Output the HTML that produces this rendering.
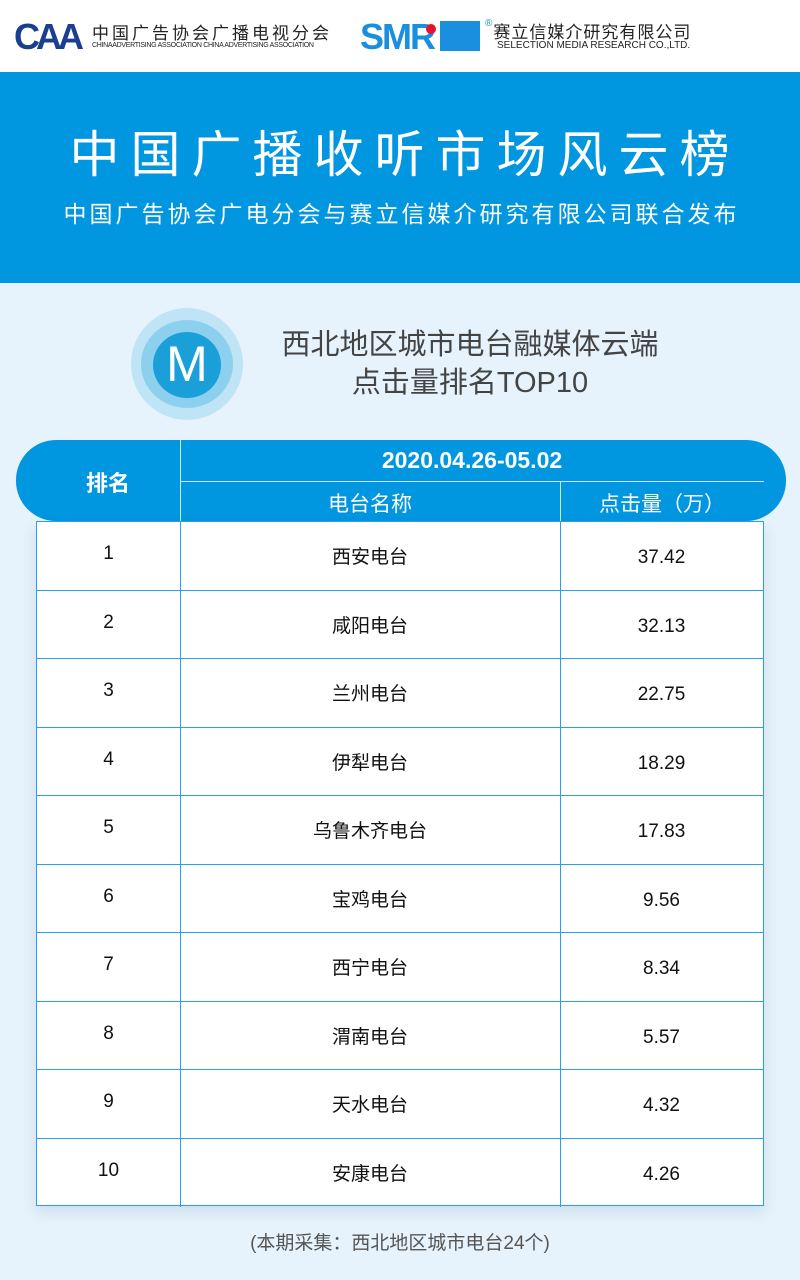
<!DOCTYPE html>
<html><head><meta charset="utf-8"><style>
*{margin:0;padding:0;box-sizing:border-box}
body{width:800px;height:1280px;background:#e6f3fc;font-family:"Liberation Sans","Noto Sans CJK SC",sans-serif;position:relative;overflow:hidden}
.top{position:absolute;left:0;top:0;width:800px;height:72px;background:#fff}
.band{position:absolute;left:0;top:72px;width:800px;height:211px;background:#0096e0}
.t1{position:absolute;top:124px;left:0;width:810px;text-align:center;color:#fff;font-size:50px;letter-spacing:11px;line-height:62px}
.t2{position:absolute;top:199px;left:0;width:803px;text-align:center;color:#fff;font-size:23px;letter-spacing:3px;line-height:30px}
.abs{position:absolute}
.pill{position:absolute;left:16px;top:440px;width:770px;height:81px;background:#0096e0;border-radius:40px}
.hd{position:absolute;color:#fff;text-align:center}
.tbl{position:absolute;left:36px;top:521px;width:728px;height:685px;background:#fff;border:1px solid #2aa0e8;box-shadow:0 6px 14px rgba(0,60,120,.12)}
.row{position:absolute;left:0;width:726px;height:68.5px;border-bottom:1px solid #2aa0e8}
.c{position:absolute;top:0;height:68px;line-height:68px;text-align:center;font-size:19px;color:#111}
.vl{position:absolute;top:0;width:1px;height:685px;background:#2aa0e8}
</style></head><body>
<div class="top">
<div class="abs" style="left:14px;top:16px;font:bold 36px 'Liberation Sans',sans-serif;color:#1a3f8f;letter-spacing:-4px">CAA</div>
<div class="abs" style="left:92px;top:19px;font-size:17px;color:#222;letter-spacing:3px">中国广告协会广播电视分会</div>
<div class="abs" style="left:92px;top:42px;font-size:7px;color:#222;letter-spacing:-.3px">CHINAADVERTISING ASSOCIATION CHINA ADVERTISING ASSOCIATION</div>
<div class="abs" style="left:360px;top:16px;font:bold 36px 'Liberation Sans',sans-serif;color:#1a8fe0;letter-spacing:-2px">SMR</div>
<div class="abs" style="left:426px;top:24px;width:10px;height:10px;border-radius:50%;background:#e8112d"></div>
<div class="abs" style="left:440px;top:21px;width:40px;height:30px;background:#1a8fe0"></div>
<div class="abs" style="left:485px;top:18px;font-size:17px;color:#222;letter-spacing:1px"><span style="font-size:10px;color:#1a8fe0;vertical-align:top">®</span>赛立信媒介研究有限公司</div>
<div class="abs" style="left:497px;top:40px;font-size:10px;color:#222">SELECTION MEDIA RESEARCH CO.,LTD.</div>
</div>
<div class="band"></div>
<div class="t1">中国广播收听市场风云榜</div>
<div class="t2">中国广告协会广电分会与赛立信媒介研究有限公司联合发布</div>
<div class="abs" style="left:131px;top:308px;width:112px;height:112px;border-radius:50%;background:#bfe4f5"></div>
<div class="abs" style="left:141px;top:320px;width:92px;height:88px;border-radius:50%;background:#8dd0ee"></div>
<div class="abs" style="left:153px;top:332px;width:68px;height:66px;border-radius:50%;background:#1a9fd8;color:#fff;font-size:50px;line-height:64px;text-align:center;font-weight:200">M</div>
<div class="abs" style="left:270px;top:326px;width:400px;text-align:center;font-size:29px;line-height:38px;color:#444">西北地区城市电台融媒体云端<br>点击量排名TOP10</div>
<div class="pill"></div>
<div class="abs" style="left:180px;top:440px;width:1px;height:81px;background:#cfe8f8"></div>
<div class="abs" style="left:180px;top:481px;width:584px;height:1px;background:#cfe8f8"></div>
<div class="abs" style="left:560px;top:481px;width:1px;height:40px;background:#cfe8f8"></div>
<div class="hd" style="left:36px;top:466px;width:144px;font-size:22px;font-weight:bold">排名</div>
<div class="hd" style="left:180px;top:447px;width:584px;font-size:23px;font-weight:bold">2020.04.26-05.02</div>
<div class="hd" style="left:180px;top:488px;width:380px;font-size:21px">电台名称</div>
<div class="hd" style="left:560px;top:488px;width:204px;font-size:21px">点击量（万）</div>
<div class="tbl">
<div class="vl" style="left:143px"></div><div class="vl" style="left:523px"></div>
<div class="row" style="top:0"><div class="c" style="left:0;width:143px;top:-2px">1</div><div class="c" style="left:143px;width:380px;top:2px">西安电台</div><div class="c" style="left:523px;width:203px;top:2px">37.42</div></div>
<div class="row" style="top:68.5px"><div class="c" style="left:0;width:143px;top:-2px">2</div><div class="c" style="left:143px;width:380px;top:2px">咸阳电台</div><div class="c" style="left:523px;width:203px;top:2px">32.13</div></div>
<div class="row" style="top:137px"><div class="c" style="left:0;width:143px;top:-2px">3</div><div class="c" style="left:143px;width:380px;top:2px">兰州电台</div><div class="c" style="left:523px;width:203px;top:2px">22.75</div></div>
<div class="row" style="top:205.5px"><div class="c" style="left:0;width:143px;top:-2px">4</div><div class="c" style="left:143px;width:380px;top:2px">伊犁电台</div><div class="c" style="left:523px;width:203px;top:2px">18.29</div></div>
<div class="row" style="top:274px"><div class="c" style="left:0;width:143px;top:-2px">5</div><div class="c" style="left:143px;width:380px;top:2px">乌鲁木齐电台</div><div class="c" style="left:523px;width:203px;top:2px">17.83</div></div>
<div class="row" style="top:342.5px"><div class="c" style="left:0;width:143px;top:-2px">6</div><div class="c" style="left:143px;width:380px;top:2px">宝鸡电台</div><div class="c" style="left:523px;width:203px;top:2px">9.56</div></div>
<div class="row" style="top:411px"><div class="c" style="left:0;width:143px;top:-2px">7</div><div class="c" style="left:143px;width:380px;top:2px">西宁电台</div><div class="c" style="left:523px;width:203px;top:2px">8.34</div></div>
<div class="row" style="top:479.5px"><div class="c" style="left:0;width:143px;top:-2px">8</div><div class="c" style="left:143px;width:380px;top:2px">渭南电台</div><div class="c" style="left:523px;width:203px;top:2px">5.57</div></div>
<div class="row" style="top:548px"><div class="c" style="left:0;width:143px;top:-2px">9</div><div class="c" style="left:143px;width:380px;top:2px">天水电台</div><div class="c" style="left:523px;width:203px;top:2px">4.32</div></div>
<div class="row" style="top:616.5px;border-bottom:none"><div class="c" style="left:0;width:143px;top:-2px">10</div><div class="c" style="left:143px;width:380px;top:2px">安康电台</div><div class="c" style="left:523px;width:203px;top:2px">4.26</div></div>
</div>
<div class="abs" style="left:0;top:1228px;width:800px;text-align:center;font-size:19px;color:#555">(本期采集：西北地区城市电台24个)</div>
</body></html>
